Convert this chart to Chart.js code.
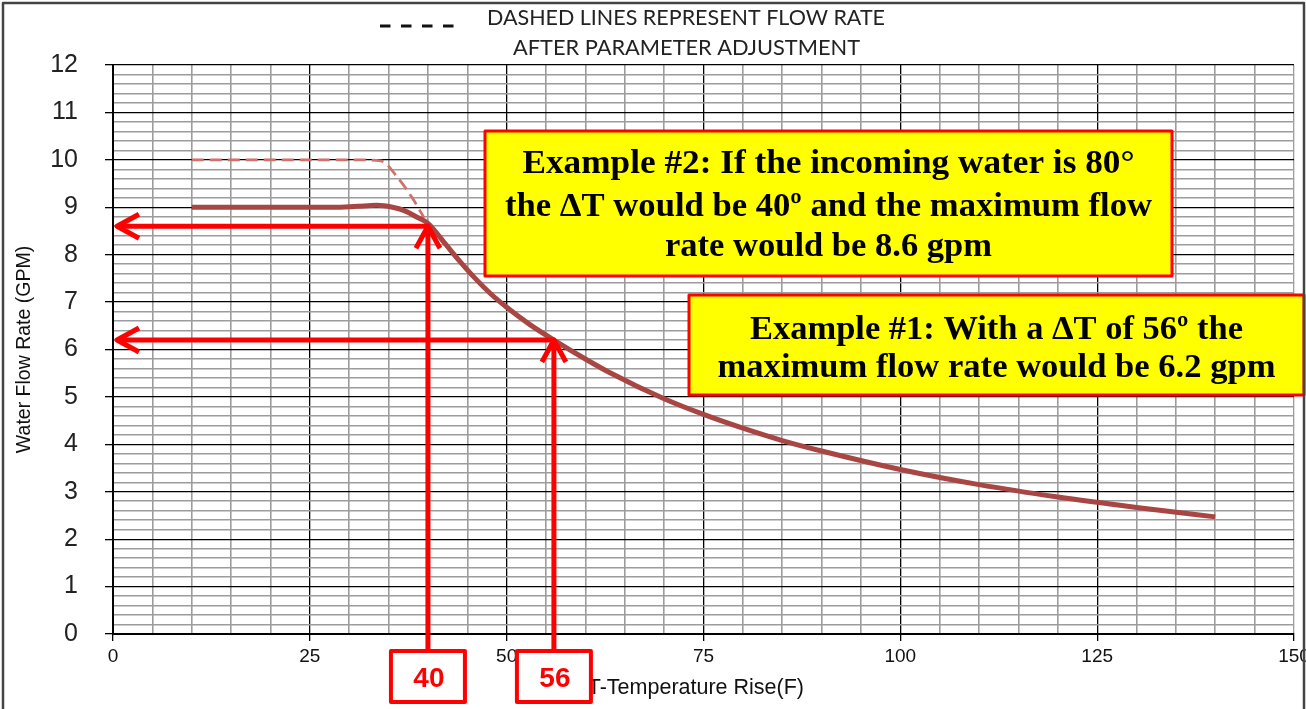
<!DOCTYPE html>
<html>
<head>
<meta charset="utf-8">
<title>Water Flow Rate vs Temperature Rise</title>
<script src="https://cdn.jsdelivr.net/npm/chart.js@4.4.1/dist/chart.umd.min.js"></script>
<style>
  html, body { margin: 0; padding: 0; background: #fff; }
  canvas { display: block; }
</style>
</head>
<body>
<canvas id="flowChart" width="1306" height="709"></canvas>
<script>
// solid curve: temperature rise (F) -> max flow (GPM)
var riseX = [10, 20, 28, 31, 33.5, 35.5, 37, 38.5, 40, 42, 44, 46, 48, 50, 53, 56, 60, 63, 70, 75, 80, 85, 90, 100, 110, 120, 130, 140];
var flowGpm = [9.0, 9.0, 9.0, 9.02, 9.04, 9.0, 8.93, 8.8, 8.66, 8.27, 7.87, 7.5, 7.17, 6.89, 6.52, 6.2, 5.8, 5.52, 4.96, 4.63, 4.34, 4.08, 3.86, 3.47, 3.15, 2.89, 2.67, 2.47];

// dashed curve: flow after parameter adjustment
var adjX = [10, 20, 30, 34, 36, 38, 39.5];
var adjGpm = [10, 10, 10, 9.98, 9.66, 9.2, 8.78];

// tick labels
var xTickLabels = [0, 25, 50, 75, 100, 125, 150];
var yTickLabels = [0, 1, 2, 3, 4, 5, 6, 7, 8, 9, 10, 11, 12];

// worked examples
var exampleRise = [40, 56];
var exampleFlow = [8.6, 6.2];
var exampleTags = ['40', '56'];

var note2Lines = ['Example #2: If the incoming water is 80\u00b0', 'the \u0394T would be 40\u00ba and the maximum flow', 'rate would be 8.6 gpm'];
var note1Lines = ['Example #1: With a \u0394T of 56\u00ba the', 'maximum flow rate would be 6.2 gpm'];
var titleLines = ['DASHED LINES REPRESENT FLOW RATE', 'AFTER PARAMETER ADJUSTMENT'];
var xTitle = '\u0394T-Temperature Rise(F)';

function toPoints(xs, ys) {
  return xs.map(function (x, i) { return { x: x, y: ys[i] }; });
}

function near(v, list) {
  var r = Math.round(v * 10) / 10;
  return list.indexOf(r) !== -1;
}

// draw text squeezed/stretched to a given width
function fitText(ctx, text, cx, cy, w) {
  var m = ctx.measureText(text).width;
  ctx.save();
  ctx.translate(cx, cy);
  ctx.scale(w / m, 1);
  ctx.fillText(text, 0, 0);
  ctx.restore();
}

function arrowHead(ctx, tx, ty, dx, dy) {
  var back = 22, half = 12;
  ctx.beginPath();
  ctx.moveTo(tx - dx * back - dy * half, ty - dy * back + dx * half);
  ctx.lineTo(tx, ty);
  ctx.lineTo(tx - dx * back + dy * half, ty - dy * back - dx * half);
  ctx.stroke();
}

var notesPlugin = {
  id: 'notes',
  afterDraw: function (chart) {
    var ctx = chart.ctx;
    var xs = chart.scales.x, ys = chart.scales.y;
    ctx.save();

    // header with dashed sample
    ctx.strokeStyle = '#111';
    ctx.lineWidth = 3;
    ctx.setLineDash([10.5, 10.5]);
    ctx.beginPath();
    ctx.moveTo(380, 26);
    ctx.lineTo(454, 26);
    ctx.stroke();
    ctx.setLineDash([]);
    ctx.fillStyle = '#222';
    ctx.textAlign = 'center';
    ctx.textBaseline = 'middle';
    ctx.font = '21px Lato, "Open Sans", sans-serif';
    fitText(ctx, titleLines[0], 686, 18, 398);
    fitText(ctx, titleLines[1], 686.5, 48, 347);

    // x axis title (its delta is hidden by the 56 tag, as in the original)
    ctx.fillStyle = '#111';
    ctx.textAlign = 'right';
    ctx.font = '21.5px "Liberation Sans", Arial, sans-serif';
    ctx.fillText(xTitle, 804, 688);
    ctx.textAlign = 'center';

    // example arrows and tag boxes
    ctx.strokeStyle = '#ff0000';
    ctx.lineWidth = 5;
    ctx.lineCap = 'butt';
    ctx.lineJoin = 'round';
    for (var i = 0; i < exampleRise.length; i++) {
      var px = xs.getPixelForValue(exampleRise[i]);
      var py = ys.getPixelForValue(exampleFlow[i]);
      var x0 = xs.getPixelForValue(0) + 4;
      var boxTop = 651;
      ctx.beginPath();
      ctx.moveTo(px, py);
      ctx.lineTo(x0 + 2, py);
      ctx.stroke();
      arrowHead(ctx, x0, py, -1, 0);
      ctx.beginPath();
      ctx.moveTo(px, boxTop);
      ctx.lineTo(px, py + 2);
      ctx.stroke();
      arrowHead(ctx, px, py, 0, -1);

      ctx.fillStyle = '#fff';
      ctx.fillRect(px - 37, boxTop, 74, 51);
      ctx.lineWidth = 4;
      ctx.strokeRect(px - 37, boxTop, 74, 51);
      ctx.lineWidth = 5;
      ctx.fillStyle = '#ff0000';
      ctx.font = 'bold 28px "Liberation Sans", Arial, sans-serif';
      ctx.fillText(exampleTags[i], px + 1, boxTop + 28);
    }

    // yellow note boxes
    function noteBox(x1, y1, x2, y2, lines, ys0, widths) {
      ctx.fillStyle = '#ffff00';
      ctx.fillRect(x1, y1, x2 - x1, y2 - y1);
      ctx.strokeStyle = '#ff0000';
      ctx.lineWidth = 3;
      ctx.strokeRect(x1, y1, x2 - x1, y2 - y1);
      ctx.fillStyle = '#000';
      ctx.font = 'bold 33px "Liberation Serif", "Times New Roman", serif';
      var cx = (x1 + x2) / 2;
      for (var k = 0; k < lines.length; k++) {
        fitText(ctx, lines[k], cx, ys0[k], widths[k]);
      }
    }
    noteBox(485, 131, 1172, 276, note2Lines, [164, 207, 247], [612, 647, 327]);
    noteBox(689, 295, 1304, 395, note1Lines, [330, 368], [493, 558]);

    // outer frame
    ctx.strokeStyle = '#444';
    ctx.lineWidth = 2.5;
    ctx.strokeRect(3, 3, 1301, 720);
    ctx.restore();
  }
};

var tickFont = { family: '"Liberation Sans", Arial, sans-serif' };

new Chart(document.getElementById('flowChart').getContext('2d'), {
  type: 'line',
  data: {
    datasets: [{
      label: 'Max flow',
      data: toPoints(riseX, flowGpm),
      borderColor: 'rgb(168, 70, 68)',
      borderWidth: 5,
      pointRadius: 0,
      cubicInterpolationMode: 'monotone',
      fill: false
    }, {
      label: 'After adjustment',
      data: toPoints(adjX, adjGpm),
      borderColor: 'rgb(210, 112, 108)',
      borderWidth: 2.8,
      borderDash: [12, 6],
      pointRadius: 0,
      cubicInterpolationMode: 'monotone',
      fill: false
    }]
  },
  options: {
    responsive: false,
    animation: false,
    devicePixelRatio: 1,
    layout: { padding: { top: 65, right: 0, bottom: 0, left: 0 } },
    plugins: {
      legend: { display: false },
      tooltip: { enabled: false }
    },
    scales: {
      x: {
        type: 'linear',
        min: 0,
        max: 150,
        ticks: {
          stepSize: 5,
          autoSkip: false,
          maxRotation: 0,
          padding: 4,
          color: '#111',
          font: { family: tickFont.family, size: 19 },
          callback: function (v) { return near(v, xTickLabels) ? String(Math.round(v)) : ''; }
        },
        grid: {
          color: function (c) { var v = c.tick.value; return (v % 25 === 0 && v < 150) ? '#000' : '#9c9c9c'; },
          lineWidth: function (c) { return c.tick.value % 25 === 0 ? 1.3 : 1.6; },
          tickLength: 7,
          tickColor: function (c) { return near(c.tick.value, xTickLabels) ? '#000' : 'rgba(0,0,0,0)'; }
        },
        border: { color: '#000', width: 2 },
        title: { display: false },
        afterFit: function (s) { s.height = 75; s.paddingLeft = 0; s.paddingRight = 12; }
      },
      y: {
        min: 0,
        max: 12,
        ticks: {
          stepSize: 0.2,
          autoSkip: false,
          padding: 27,
          color: '#222',
          font: { family: tickFont.family, size: 25 },
          callback: function (v) { return near(v, yTickLabels) ? String(Math.round(v)) : ''; }
        },
        grid: {
          color: function (c) { return near(c.tick.value, yTickLabels) ? '#000' : '#9c9c9c'; },
          lineWidth: function (c) { return near(c.tick.value, yTickLabels) ? 1.3 : 1.5; },
          tickLength: 8,
          tickColor: function (c) { return near(c.tick.value, yTickLabels) ? '#000' : 'rgba(0,0,0,0)'; }
        },
        border: { color: '#000', width: 2 },
        title: {
          display: true,
          text: 'Water Flow Rate (GPM)',
          color: '#111',
          font: { family: tickFont.family, size: 19.5 },
          padding: { top: 13, bottom: 0 }
        },
        afterFit: function (s) { s.width = 113; s.paddingTop = 0; s.paddingBottom = 0; }
      }
    }
  },
  plugins: [notesPlugin]
});
</script>
</body>
</html>
